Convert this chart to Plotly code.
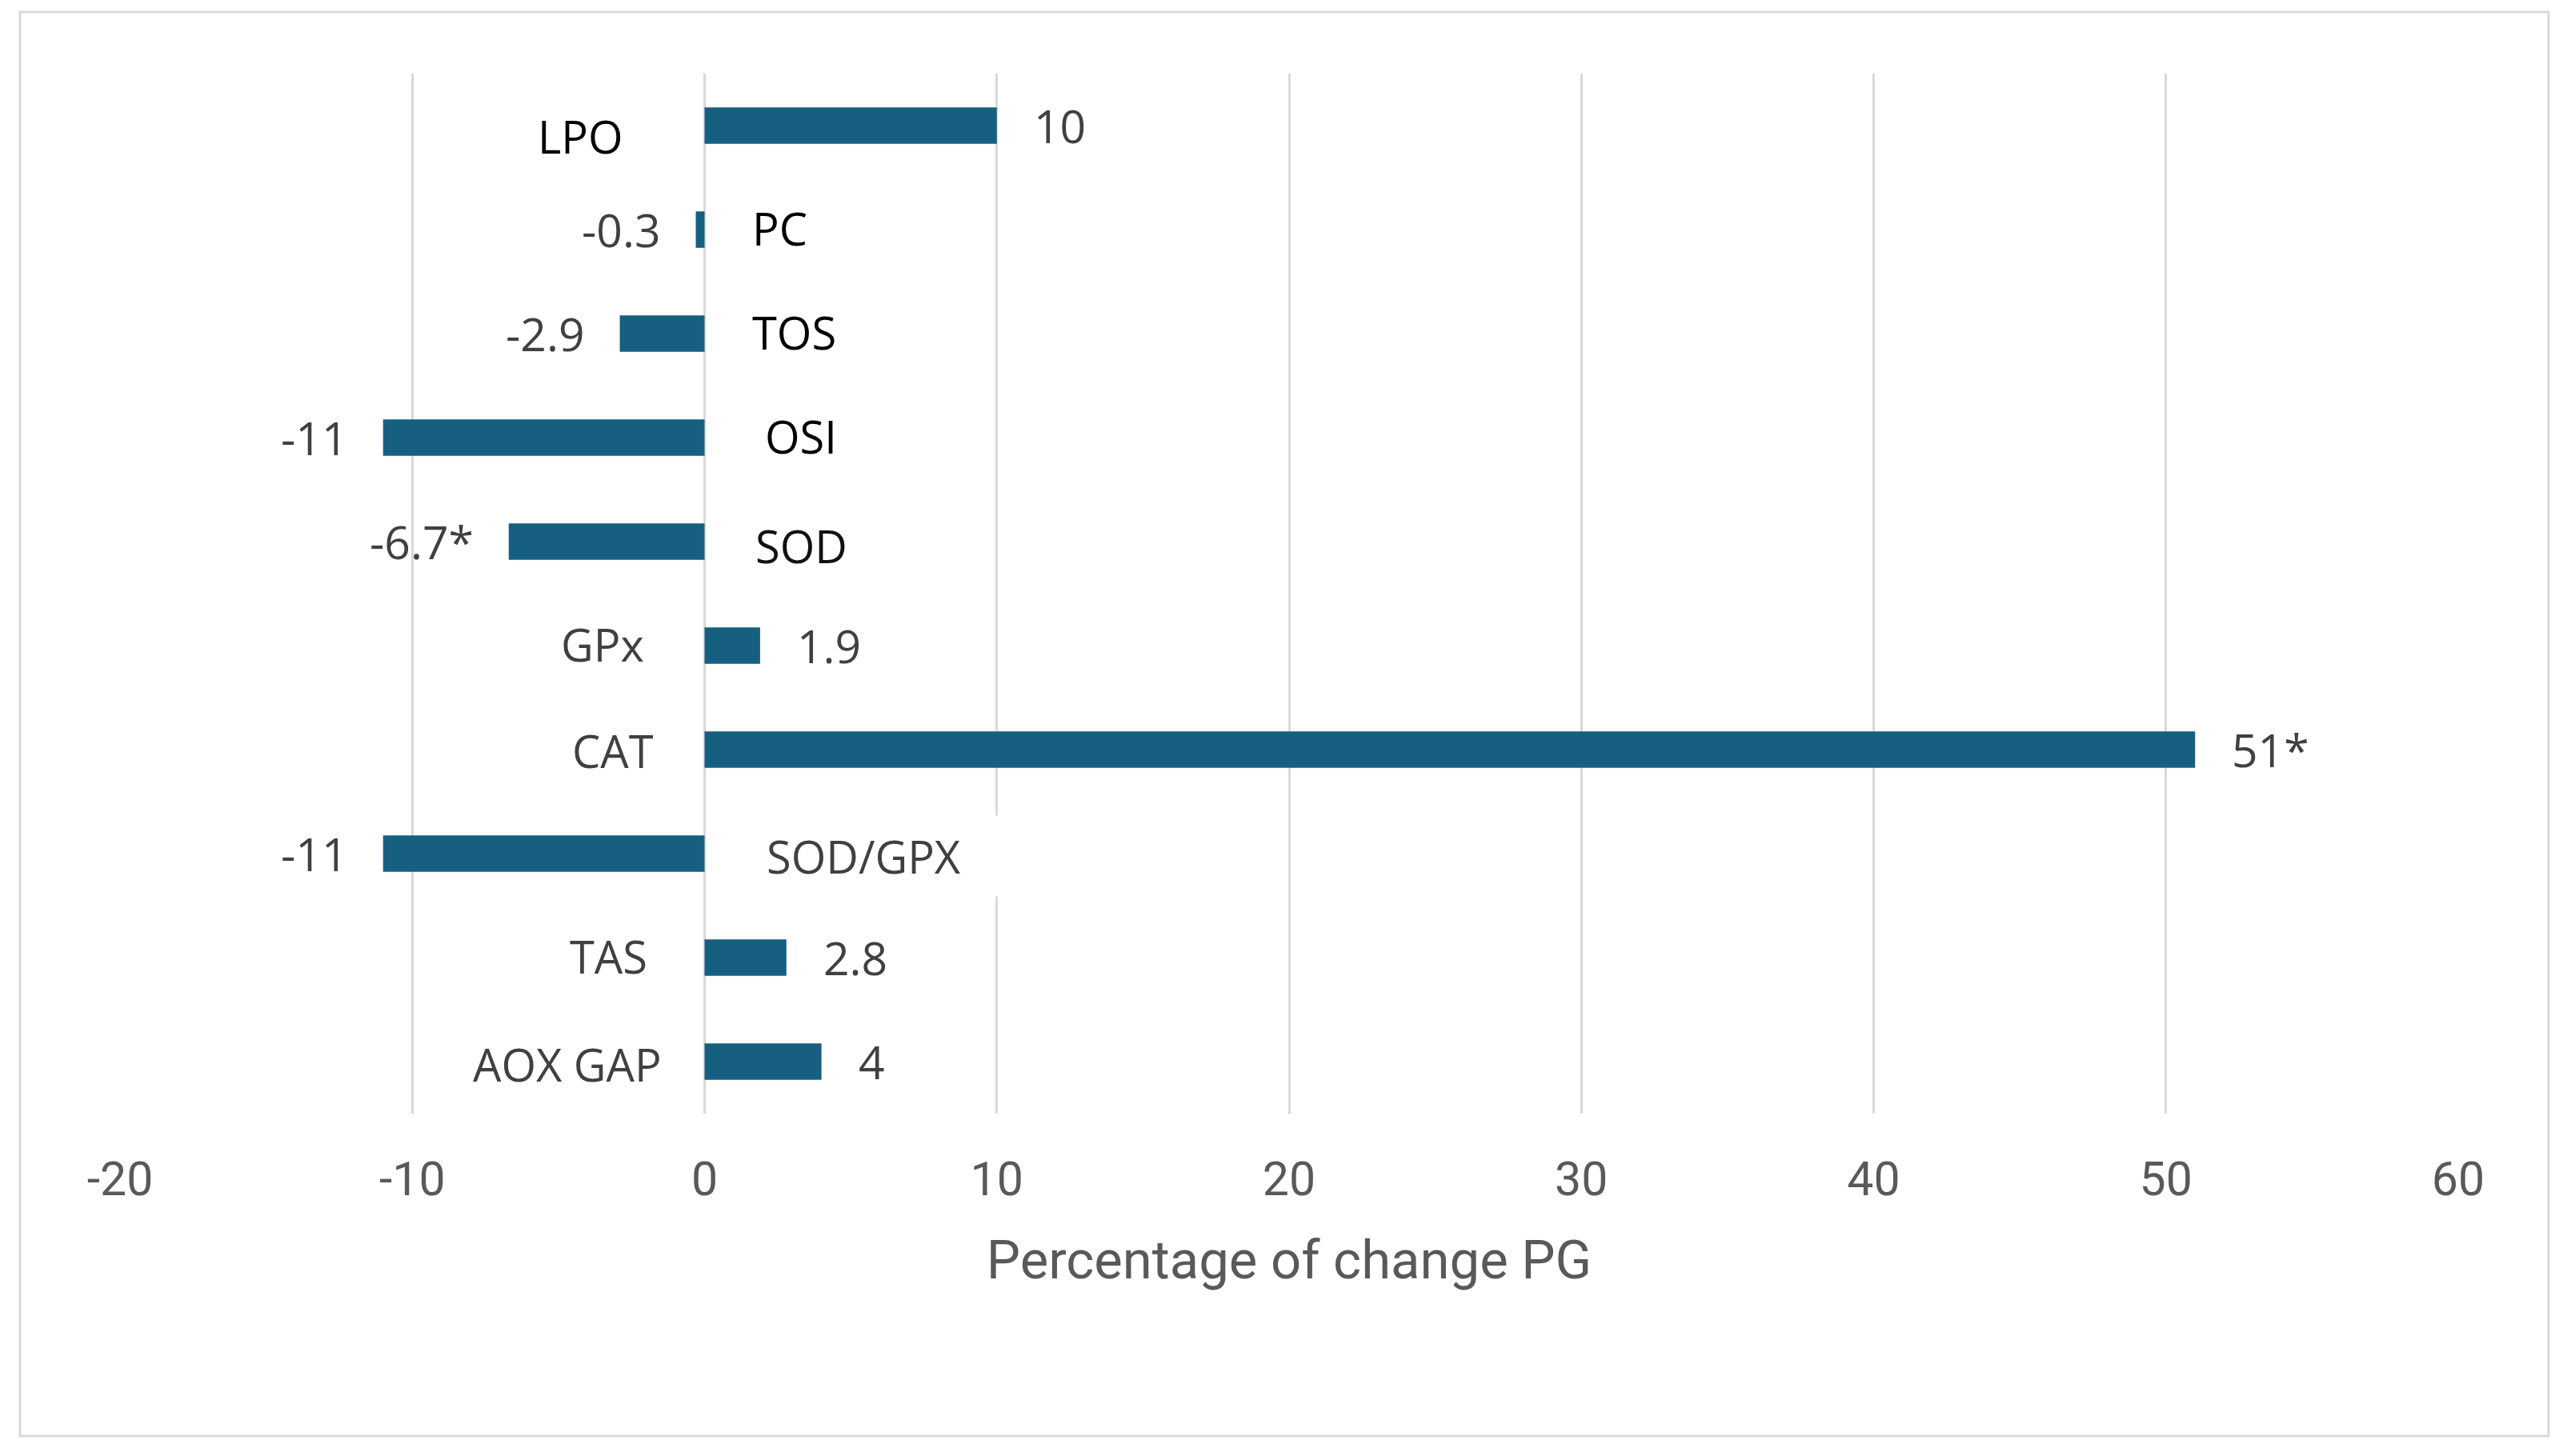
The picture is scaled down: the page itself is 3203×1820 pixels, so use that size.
import plotly.graph_objects as go

# ---- data ----
categories = ["LPO", "PC", "TOS", "OSI", "SOD", "GPx", "CAT", "SOD/GPX", "TAS", "AOX GAP"]
values = [10, -0.3, -2.9, -11, -6.7, 1.9, 51, -11, 2.8, 4]
value_labels = ["10", "-0.3", "-2.9", "-11", "-6.7*", "1.9", "51*", "-11", "2.8", "4"]
tick_values = [-20, -10, 0, 10, 20, 30, 40, 50, 60]
tick_labels = ["-20", "-10", "0", "10", "20", "30", "40", "50", "60"]
x_title = "Percentage of change PG"

# ---- layout of category labels (placement / style only) ----
PAD = 12
cat_side = ["left", "right", "right", "right", "right", "left", "left", "right", "left", "left"]
cat_xshift = [-102, 58, 58, 74, 62, -75, -63, 76, -71, -53]
cat_yshift = [-13, 2, 2, 2, -5, 2, -1, -3, 2, -3]
cat_color = ["#000000", "#000000", "#000000", "#000000", "#111111",
             "#404040", "#404040", "#404040", "#404040", "#404040"]
cat_box_width = [None, None, None, None, None, None, None, 330, None, None]

BAR_COLOR = "#175f80"
OFF = 8  # page body margin
W, H = 3203 - OFF, 1820 - OFF
ML, MR, MT, MB = 150 - OFF, 131, 92 - OFF, 428

fig = go.Figure()
fig.add_trace(go.Bar(
    x=values, y=categories, orientation="h",
    marker=dict(color=BAR_COLOR, line=dict(width=0)),
    width=0.35, hoverinfo="x+y",
))

annotations = []
# value labels at bar ends
for c, v, t in zip(categories, values, value_labels):
    annotations.append(dict(
        x=v, y=c, xref="x", yref="y", text=t, showarrow=False,
        xanchor="left" if v >= 0 else "right",
        xshift=44 if v >= 0 else -42,
        font=dict(family="Open Sans", size=57, color="#404040"),
    ))
# category labels
for c, side, xs, ys, col, bw in zip(categories, cat_side, cat_xshift, cat_yshift, cat_color, cat_box_width):
    a = dict(
        x=0, y=c, xref="x", yref="y", text=c, showarrow=False,
        xanchor="right" if side == "left" else "left",
        xshift=xs + PAD if side == "left" else xs - PAD, yshift=ys,
        font=dict(family="Open Sans", size=56, color=col),
        bgcolor="white", borderpad=PAD,
    )
    if bw:
        a["width"] = bw
        a["align"] = "left"
    annotations.append(a)

plot_w = W - ML - MR
plot_h = H - MT - MB
top_px = OFF + MT
bot_px = OFF + H - MB
left_px = OFF + ML
# outer chart border (page pixels 25..3185 x 15..1795)
shapes = [dict(
    type="rect", xref="paper", yref="paper",
    x0=(25 - left_px) / plot_w, x1=(3185 - left_px) / plot_w,
    y0=-(1795 - bot_px) / plot_h, y1=1 + (top_px - 15) / plot_h,
    line=dict(color="#d9d9d9", width=3), fillcolor="rgba(0,0,0,0)", layer="below",
)]

fig.update_layout(
    width=W, height=H,
    margin=dict(l=ML, r=MR, t=MT, b=MB, pad=0),
    paper_bgcolor="white", plot_bgcolor="white",
    showlegend=False,
    annotations=annotations,
    shapes=shapes,
    xaxis=dict(
        range=[-20, 60], tickvals=tick_values, ticktext=tick_labels,
        showgrid=True, gridcolor="#d9d9d9", gridwidth=3,
        zeroline=True, zerolinecolor="#d9d9d9", zerolinewidth=3,
        showline=False, ticks="",
        tickfont=dict(family="Roboto", size=59, color="#595959"),
        ticklabelstandoff=42,
        title=dict(text=x_title, font=dict(family="Roboto", size=67, color="#595959"), standoff=44),
        fixedrange=True,
    ),
    yaxis=dict(
        autorange="reversed", showticklabels=False, showgrid=False,
        zeroline=False, showline=False, ticks="", fixedrange=True,
    ),
)

fig.write_html("out.html")
